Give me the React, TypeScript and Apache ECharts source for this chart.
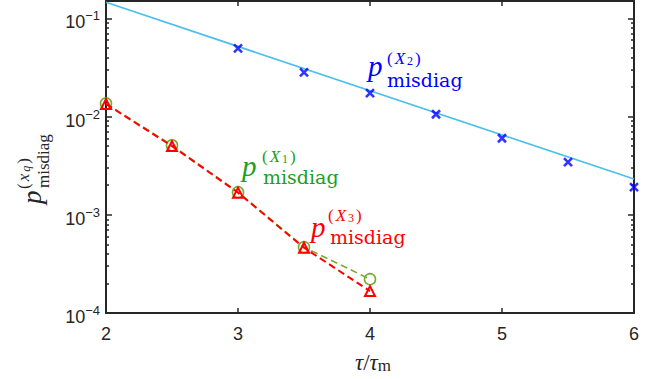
import React, { useEffect, useRef } from "react";
import * as echarts from "echarts";

// ---- data ----
const tauX1X3 = [2, 2.5, 3, 3.5, 4];
const pX1 = [0.0136, 0.0051, 0.0017, 0.000468, 0.000221];
const pX3 = [0.0134, 0.005, 0.00168, 0.000462, 0.000167];
const tauX2 = [3, 3.5, 4, 4.5, 5, 5.5, 6];
const pX2 = [0.0495, 0.0282, 0.0173, 0.01055, 0.00601, 0.00343, 0.00191];
const fitTau = [2, 6];
const fitX2 = [0.1455, 0.00231];
const xTicks = [2, 3, 4, 5, 6];
const yMajor = [1e-4, 1e-3, 1e-2, 1e-1];
const yMinor = [
  2e-4, 3e-4, 4e-4, 5e-4, 6e-4, 7e-4, 8e-4, 9e-4,
  2e-3, 3e-3, 4e-3, 5e-3, 6e-3, 7e-3, 8e-3, 9e-3,
  2e-2, 3e-2, 4e-2, 5e-2, 6e-2, 7e-2, 8e-2, 9e-2,
];
const yMin = 1e-4;
const yMax = 0.15;

const AX = "#262626";
const SERIF = "Liberation Serif";
const SERIF2 = "DejaVu Serif";
const SANS = "Liberation Sans";

function supText(x: number, y: number, color: string, base: string, sub: string, size: number, subItalic: boolean, rotation = 0) {
  const pad = [0, 1, 0, 1];
  return {
    type: "text",
    x,
    y,
    rotation,
    style: {
      text: `{a|(}{i|${base}}{d|${sub}}{a|)}`,
      fill: color,
      align: "left",
      verticalAlign: "middle",
      rich: {
        a: { fontFamily: SERIF, fontSize: size, lineHeight: size, padding: pad, verticalAlign: "top", fill: color },
        i: { fontFamily: SERIF, fontStyle: "italic", fontSize: size, lineHeight: size, padding: pad, verticalAlign: "top", fill: color },
        d: {
          fontFamily: SERIF,
          fontStyle: subItalic ? "italic" : "normal",
          fontSize: Math.round(size * 0.7),
          lineHeight: Math.round(size * 0.7),
          padding: pad,
          verticalAlign: "bottom",
          fill: color,
        },
      },
    },
  };
}

function annotation(color: string, idx: string, p: [number, number], sup: [number, number], sub: [number, number]) {
  return [
    {
      type: "text",
      x: p[0],
      y: p[1],
      style: { text: "p", fontFamily: SERIF, fontStyle: "italic", fontSize: 29, fill: color, align: "left", verticalAlign: "middle" },
    },
    supText(sup[0], sup[1], color, "X", idx, 17, false),
    {
      type: "text",
      x: sub[0],
      y: sub[1],
      style: { text: "misdiag", fontFamily: SERIF2, fontSize: 19, fill: color, align: "left", verticalAlign: "middle" },
    },
  ];
}

function yAxisBase(position: "left" | "right") {
  return {
    type: "log",
    logBase: 10,
    min: yMin,
    max: yMax,
    position,
    splitLine: { show: false },
    axisLabel: { show: false },
    axisLine: { show: false },
  };
}

export default function App() {
  const ref = useRef<HTMLDivElement>(null);
  useEffect(() => {
    if (!ref.current) return;
    const chart = echarts.init(ref.current, null, { renderer: "svg" });
    const tickLabelRich = {
      b: { fontFamily: SANS, fontSize: 18, lineHeight: 18, padding: [4, 0, 0, 0], verticalAlign: "top", color: AX },
      s: { fontFamily: SANS, fontSize: 13, lineHeight: 13, verticalAlign: "top", color: AX },
    };
    chart.setOption({
      animation: false,
      backgroundColor: "#ffffff",
      grid: { left: 106, right: 38, top: 1, bottom: 66, containLabel: false },
      xAxis: [
        {
          type: "value",
          min: 2,
          max: 6,
          interval: 1,
          position: "bottom",
          axisLine: { show: true, lineStyle: { color: AX, width: 2 } },
          axisTick: { show: true, inside: true, length: 5, lineStyle: { color: AX, width: 1.5 }, customValues: xTicks },
          axisLabel: { show: true, margin: 12, fontFamily: SANS, fontSize: 18, color: AX, customValues: xTicks },
          splitLine: { show: false },
        },
        {
          type: "value",
          min: 2,
          max: 6,
          interval: 1,
          position: "top",
          axisLine: { show: true, lineStyle: { color: AX, width: 2 } },
          axisTick: { show: true, inside: true, length: 5, lineStyle: { color: AX, width: 1.5 }, customValues: xTicks },
          axisLabel: { show: false },
          splitLine: { show: false },
        },
      ],
      yAxis: [
        {
          ...yAxisBase("left"),
          axisLine: { show: true, lineStyle: { color: AX, width: 2 } },
          axisTick: { show: true, inside: true, length: 6, lineStyle: { color: AX, width: 1.5 }, customValues: yMajor },
          axisLabel: {
            show: true,
            margin: 6,
            customValues: yMajor,
            formatter: (v: number) => {
              const e = Math.round(Math.log10(v));
              if (Math.abs(Math.log10(v) - e) > 1e-6) return "";
              return `{b|10}{s|${e < 0 ? "\u2212" + -e : e}}`;
            },
            rich: tickLabelRich,
          },
        },
        {
          ...yAxisBase("left"),
          axisTick: { show: true, inside: true, length: 3, lineStyle: { color: AX, width: 1.5 }, customValues: yMinor },
        },
        {
          ...yAxisBase("right"),
          axisLine: { show: true, lineStyle: { color: AX, width: 2 } },
          axisTick: { show: true, inside: true, length: 6, lineStyle: { color: AX, width: 1.5 }, customValues: yMajor },
        },
        {
          ...yAxisBase("right"),
          axisTick: { show: true, inside: true, length: 3, lineStyle: { color: AX, width: 1.5 }, customValues: yMinor },
        },
      ],
      series: [
        {
          type: "line",
          data: fitTau.map((t, i) => [t, fitX2[i]]),
          showSymbol: false,
          symbol: "none",
          lineStyle: { color: "#4DBEEE", width: 1.7 },
          clip: true,
          z: 2,
        },
        {
          type: "scatter",
          data: tauX2.map((t, i) => [t, pX2[i]]),
          symbol: "path://M0,0L10,10M10,0L0,10",
          symbolSize: 8,
          itemStyle: { color: "rgba(0,0,0,0)", borderColor: "#0000FF", borderWidth: 2.6 },
          z: 3,
        },
        {
          type: "line",
          data: tauX1X3.map((t, i) => [t, pX1[i]]),
          symbol: "circle",
          symbolSize: 11,
          showAllSymbol: true,
          itemStyle: { color: "rgba(0,0,0,0)", borderColor: "#77AC30", borderWidth: 1.6 },
          lineStyle: { color: "#77AC30", width: 1.6, type: [7, 4] },
          z: 4,
        },
        {
          type: "line",
          data: tauX1X3.map((t, i) => [t, pX3[i]]),
          symbol: "triangle",
          symbolSize: 10,
          showAllSymbol: true,
          itemStyle: { color: "rgba(0,0,0,0)", borderColor: "#FF0000", borderWidth: 2 },
          lineStyle: { color: "#FF0000", width: 2, type: [7, 4] },
          z: 5,
        },
      ],
      graphic: [
        ...annotation("#0000FF", "2", [368, 66], [386, 58], [387, 80]),
        ...annotation("#1E9E1E", "1", [242, 166], [261, 156], [263, 177]),
        ...annotation("#FF0000", "3", [311, 227], [327, 215], [330, 237]),
        // x-axis title
        {
          type: "text",
          x: 373,
          y: 362,
          style: {
            text: "{i|τ}{n|/}{i|τ}{s|m}",
            align: "center",
            verticalAlign: "middle",
            rich: {
              i: { fontFamily: SERIF, fontStyle: "italic", fontSize: 23, lineHeight: 23, verticalAlign: "top", fill: AX },
              n: { fontFamily: SERIF, fontSize: 23, lineHeight: 23, verticalAlign: "top", fill: AX },
              s: { fontFamily: SERIF, fontSize: 17, lineHeight: 17, verticalAlign: "bottom", fill: AX },
            },
          },
        },
        // y-axis title (rotated)
        {
          type: "text",
          x: 32,
          y: 204,
          rotation: Math.PI / 2,
          style: { text: "p", fontFamily: SERIF, fontStyle: "italic", fontSize: 27, fill: AX, align: "left", verticalAlign: "middle" },
        },
        supText(23, 190, AX, "x", "q", 17, true, Math.PI / 2),
        {
          type: "text",
          x: 43,
          y: 188,
          rotation: Math.PI / 2,
          style: { text: "misdiag", fontFamily: SERIF, fontSize: 17, fill: AX, align: "left", verticalAlign: "middle" },
        },
      ],
    });
    return () => chart.dispose();
  }, []);
  return <div ref={ref} style={{ position: "fixed", left: 0, top: 0, width: 672, height: 379, background: "#fff" }} />;
}
